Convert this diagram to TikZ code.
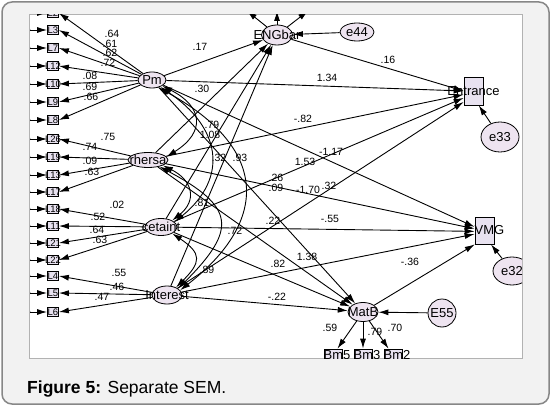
\documentclass[tikz,border=0pt]{standalone}
\usepackage{fontspec}
\setmainfont{Liberation Sans}
\usetikzlibrary{arrows.meta,shapes.geometric}

\definecolor{latfill}{RGB}{238,228,240}
\definecolor{boxfill}{RGB}{232,226,240}
\definecolor{framegray}{RGB}{242,242,242}
\definecolor{edgegray}{RGB}{135,135,135}

\newcommand*{\indx}{53}
\newcommand*{\errx}{17}

\begin{document}
\begin{tikzpicture}
[
	x=1pt, y=-1pt,
	latent/.style={ellipse,draw,fill=latfill,inner sep=0pt,line width=0.8pt},
	obsbox/.style={rectangle,draw,fill=boxfill,inner sep=0pt,line width=0.8pt},
	reg/.style={-{Latex[length=10pt,width=6pt]},line width=0.9pt},
	cov/.style={{Latex[length=10pt,width=6pt]}-{Latex[length=10pt,width=6pt]},line width=0.9pt},
	wt/.style={font=\fontsize{10.5}{11}\selectfont,inner sep=0pt},
	vname/.style={font=\fontsize{13}{14}\selectfont,inner sep=0pt},
	ind/.style={font=\fontsize{9.5}{10}\selectfont,inner sep=0pt}
]

	\useasboundingbox (0,0) rectangle (551,406);

	% frame
	\draw[edgegray, line width=1.5pt, fill=framegray, rounded corners=10pt] (2,2) rectangle (549,404);
	\draw[gray!60, fill=white] (29.5,14) rectangle (522,358.5);

	\begin{scope}
	\clip (30,14.5) rectangle (522,358);

	% latent variables
	\node[latent, minimum width=28pt, minimum height=16pt, label={[vname]center:Pm}] (Pm) at (152,80) {};
	\node[latent, minimum width=40pt, minimum height=15pt, label={[vname]center:rhersa}] (rh) at (148,160) {};
	\node[latent, minimum width=32pt, minimum height=17pt, label={[vname]center:cetaint}] (ce) at (161,227) {};
	\node[latent, minimum width=30pt, minimum height=18pt, label={[vname]center:Interest}] (In) at (167,295) {};
	\node[latent, minimum width=31pt, minimum height=20pt, label={[vname]center:ENGbar}] (EN) at (277,35) {};
	\node[latent, minimum width=30pt, minimum height=19pt, label={[vname]center:MatB}] (MatB) at (363,312) {};

	% errors
	\node[latent, minimum width=34pt, minimum height=18pt, label={[vname]center:e44}] (e44) at (357,32) {};
	\node[latent, minimum width=38pt, minimum height=30pt, label={[vname]center:e33}] (e33) at (500,137) {};
	\node[latent, minimum width=38pt, minimum height=28pt, label={[vname]center:e32}] (e32) at (512,271) {};
	\node[latent, minimum width=28pt, minimum height=28pt, label={[vname]center:E55}] (E55) at (442,313) {};

	% outcomes
	\node[obsbox, minimum width=19pt, minimum height=28pt, label={[vname]center:Entrance}] (Ent) at (473.5,91) {};
	\node[obsbox, minimum width=19pt, minimum height=27pt, label={[vname,xshift=5pt]center:VMG}] (VMG) at (484.5,230.5) {};
	\foreach \n/\x in {5/333,3/363,2/393} {
		\node[obsbox, minimum width=18pt, minimum height=12pt, label={[vname,xshift=4pt]center:Bm\n}] (Bm\n) at (\x,355) {};
		\draw[reg] (MatB) -- (Bm\n);
	}

	% indicators on the left
	\foreach \lab/\y [count=\i] in {L2/13,L3/30,L7/48,L12/66,L10/84,L9/102,L8/120,L26/139,L19/157,L13/175,L17/192,L18/209,L11/226,L21/243,L22/260,L4/276,L5/293,L6/312} {
		\node[obsbox, minimum width=11pt, minimum height=9pt, label={[ind]center:\lab}] (L\i) at (\indx,\y) {};
		\node[latent, minimum width=26pt, minimum height=14pt] (eL\i) at (\errx,\y) {};
		\draw[reg] (eL\i) -- (L\i);
	}

	% loadings
	\foreach \i in {1,...,7} {
		\draw[reg] (Pm) -- (L\i.east);
	}
	\foreach \i in {8,...,11} {
		\draw[reg] (rh) -- (L\i.east);
	}
	\foreach \i in {12,...,15} {
		\draw[reg] (ce) -- (L\i.east);
	}
	\foreach \i in {16,17,18} {
		\draw[reg] (In) -- (L\i.east);
	}

	% ENGbar indicators (cut off at the top)
	\coordinate (t1) at (247,11);
	\coordinate (t2) at (277,11);
	\coordinate (t3) at (308,11);
	\foreach \t in {t1,t2,t3} {
		\draw[reg] (EN) -- (\t);
	}

	% structural paths
	\draw[reg] (Pm) -- (EN);
	\draw[reg] (rh) -- (EN);
	\draw[reg] (ce) -- (EN);
	\draw[reg] (In) -- (EN);

	\draw[reg] (EN) -- (Ent.west);
	\draw[reg] (Pm) -- (Ent.west);
	\draw[reg] (rh) -- (Ent.200);
	\draw[reg] (ce) -- (Ent.215);
	\draw[reg] (In) -- (Ent.228);

	\draw[reg] (Pm) -- (VMG.160);
	\draw[reg] (rh) -- (VMG.170);
	\draw[reg] (ce) -- (VMG.185);
	\draw[reg] (In) -- (VMG.200);
	\draw[reg] (MatB) -- (VMG.235);

	\draw[reg] (Pm) -- (MatB);
	\draw[reg] (rh) -- (MatB);
	\draw[reg] (ce) -- (MatB);
	\draw[reg] (In) -- (MatB);

	% residuals
	\draw[reg] (e44) -- (EN);
	\draw[reg] (e33) -- (Ent.-70);
	\draw[reg] (e32) -- (VMG.-65);
	\draw[reg] (E55) -- (MatB);

	% covariances
	\draw[cov] (Pm.-30) .. controls +(40,20) and +(40,-25) .. (rh.10);
	\draw[cov] (Pm.-40) .. controls +(60,40) and +(55,-45) .. (ce.20);
	\draw[cov] (Pm.-50) .. controls +(110,60) and +(90,-70) .. (In.20);
	\draw[cov] (rh.-20) .. controls +(30,15) and +(25,-20) .. (ce.30);
	\draw[cov] (rh.-30) .. controls +(75,40) and +(60,-60) .. (In.30);
	\draw[cov] (ce.-30) .. controls +(30,20) and +(25,-25) .. (In.40);

	% weights
	\foreach \wv/\x/\y [count=\i] in {.64/112/34,.61/110/43.5,.62/110/53,.72/108/63,.08/90/76,.69/90/86.5,.66/91/96.5,
		.75/108/137,.74/90/147,.09/90/161,.63/92/172,
		.02/117/205,.52/98/217,.64/97/230,.63/100/240,
		.55/119/273,.46/117/287,.47/102/297,
		.17/200/47,1.34/327/78,.16/388/60,.30/202/89,-.82/303/119,.79/212/125,1.08/210/135,
		-1.17/331/152,1.53/305/162,.32/219/158,.93/240/158,.26/276/177.5,.09/276/188,-1.70/308/190,
		.32/329/186,.81/202/203,-.55/330/219,.22/273/221,.72/235/231,1.38/307/257,.82/278/264,
		-.36/410/262,.89/207/270,-.22/277/297,.59/330/328,.79/375/332,.70/395/328} {
		\node[wt] (w\i) at (\x,\y) {\wv};
	}

	\end{scope}

	% caption
	\node[anchor=base west, inner sep=0pt, font=\fontsize{17.5}{20}\selectfont] (cap) at (27,393.5) {\textbf{Figure 5:} Separate SEM.};

\end{tikzpicture}
\end{document}
